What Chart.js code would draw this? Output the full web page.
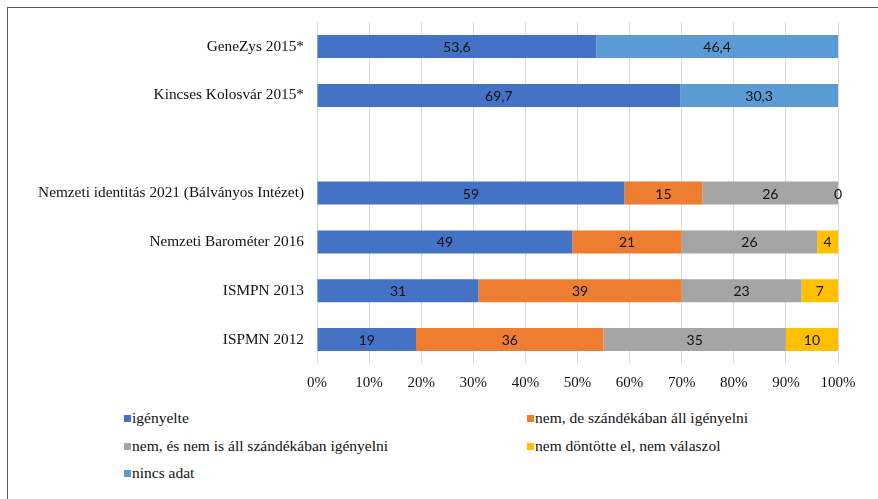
<!DOCTYPE html>
<html>
<head>
<meta charset="utf-8">
<script src="https://cdn.jsdelivr.net/npm/chart.js@4/dist/chart.umd.min.js"></script>
<style>
  html, body { margin: 0; padding: 0; background: #fff; }
  body { width: 878px; height: 499px; position: relative; overflow: hidden; }
  #frame { position: absolute; left: 7px; top: 7px; width: 900px; height: 520px;
           border-top: 1px solid #595959; border-left: 1px solid #595959; }
  #wrap { position: absolute; left: 0; top: 0; width: 878px; height: 400px; }
  .leg { position: absolute; font-family: "Liberation Serif", "Times New Roman", serif;
         font-size: 15.5px; color: #111; white-space: nowrap; line-height: 18px; }
  .leg i { display: inline-block; width: 7px; height: 7px; margin-right: 1px; vertical-align: 1px; }
</style>
</head>
<body>
<div id="frame"></div>
<div id="wrap"><canvas id="c"></canvas></div>
<div id="legend"></div>
<script>
const categories = ["GeneZys 2015*", "Kincses Kolosvár 2015*", "", "Nemzeti identitás 2021 (Bálványos Intézet)", "Nemzeti Barométer 2016", "ISMPN 2013", "ISPMN 2012"];
const seriesNames = ["igényelte", "nem, de szándékában áll igényelni", "nem, és nem is áll szándékában igényelni", "nem döntötte el, nem válaszol", "nincs adat"];
const igenyelte = [53.6, 69.7, null, 59, 49, 31, 19];
const nemDeSzandek = [null, null, null, 15, 21, 39, 36];
const nemEsNemSzandek = [null, null, null, 26, 26, 23, 35];
const nemDontotte = [null, null, null, 0, 4, 7, 10];
const nincsAdat = [46.4, 30.3, null, null, null, null, null];
const xTicks = [0, 10, 20, 30, 40, 50, 60, 70, 80, 90, 100];
const colors = ["#4472C4", "#ED7D31", "#A5A5A5", "#FFC000", "#5B9BD5"];

const allSeries = [igenyelte, nemDeSzandek, nemEsNemSzandek, nemDontotte, nincsAdat];

const labelPlugin = {
  id: 'barLabels',
  afterDatasetsDraw(chart) {
    const ctx = chart.ctx;
    ctx.save();
    ctx.font = '14px Lato, "Open Sans", sans-serif';
    ctx.fillStyle = '#111';
    ctx.textAlign = 'center';
    ctx.textBaseline = 'middle';
    chart.data.datasets.forEach((ds, di) => {
      const meta = chart.getDatasetMeta(di);
      meta.data.forEach((el, i) => {
        const v = ds.data[i];
        if (v === null || v === undefined) return;
        const p = el.getCenterPoint();
        ctx.fillText(String(v).replace('.', ','), p.x, p.y + 1);
      });
    });
    ctx.restore();
  }
};

new Chart(document.getElementById('c'), {
  type: 'bar',
  data: {
    labels: categories,
    datasets: allSeries.map((d, i) => ({
      label: seriesNames[i],
      data: d,
      backgroundColor: colors[i],
      borderWidth: 0,
      barPercentage: 0.47,
      categoryPercentage: 1
    }))
  },
  options: {
    indexAxis: 'y',
    responsive: true,
    maintainAspectRatio: false,
    animation: false,
    layout: { padding: { top: 17, right: 40, left: 0, bottom: 0 } },
    plugins: { legend: { display: false }, tooltip: { enabled: false } },
    scales: {
      x: {
        stacked: true,
        min: 0, max: 100,
        afterBuildTicks(scale) { scale.ticks = xTicks.map(v => ({ value: v })); },
        afterFit(scale) { scale.height = 36; },
        grid: { color: '#D9D9D9', lineWidth: 1, drawTicks: false },
        border: { display: false },
        ticks: {
          padding: 10,
          color: '#111',
          font: { family: '"Liberation Serif", "Times New Roman", serif', size: 15 },
          callback: v => v + '%'
        }
      },
      y: {
        stacked: true,
        afterFit(scale) { scale.width = 317; },
        grid: { display: false, drawTicks: false },
        border: { display: false },
        ticks: {
          padding: 13,
          color: '#111',
          font: { family: '"Liberation Serif", "Times New Roman", serif', size: 15.3 }
        }
      }
    }
  },
  plugins: [labelPlugin]
});

// legend (two columns)
const legPos = [[124, 409], [527, 409], [124, 437], [527, 437], [124, 464]];
const legend = document.getElementById('legend');
seriesNames.forEach((n, i) => {
  const d = document.createElement('div');
  d.className = 'leg';
  d.style.left = legPos[i][0] + 'px';
  d.style.top = legPos[i][1] + 'px';
  d.innerHTML = '<i style="background:' + colors[i] + '"></i>' + n;
  legend.appendChild(d);
});
</script>
</body>
</html>
